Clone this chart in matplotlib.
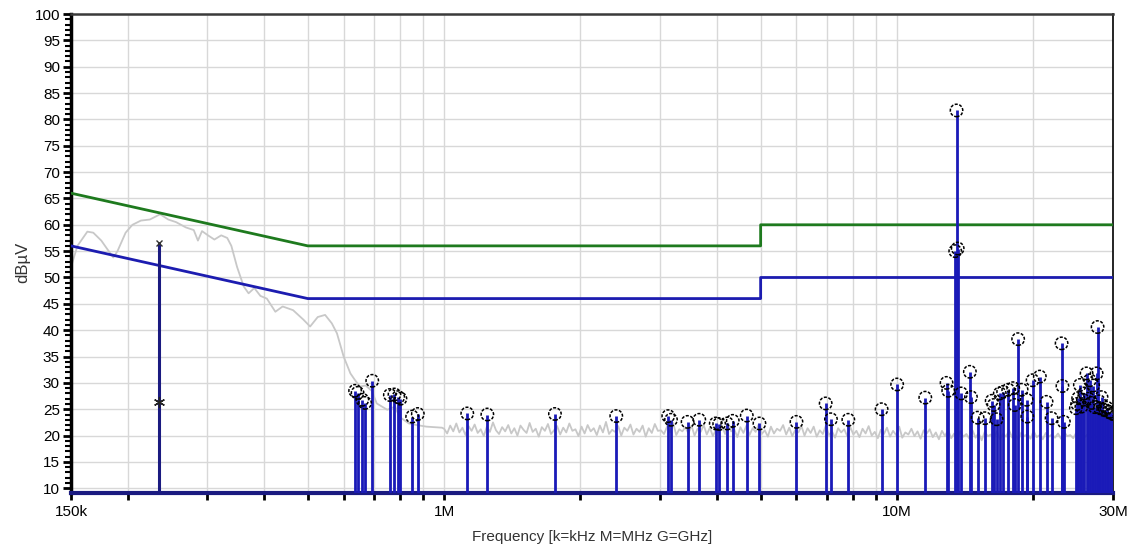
import numpy as np
import matplotlib.pyplot as plt

plt.rcParams['font.family'] = ['Liberation Sans', 'DejaVu Sans']

# limit lines, frequency in MHz, level in dBuV
qp_freq = [0.15, 0.5, 5.0, 5.0, 30.0]
qp_limit = [66, 56, 56, 60, 60]
av_freq = [0.15, 0.5, 5.0, 5.0, 30.0]
av_limit = [56, 46, 46, 50, 50]

# gray sweep trace: low band read point by point (kHz)
trace_khz = [150, 155, 163, 168, 175, 180, 186, 190, 198, 205, 214, 224, 236, 246, 256,
             269, 280, 286, 292, 301, 311, 322, 332, 339, 349, 361, 370, 381, 393, 406,
             424, 440, 464, 489, 506, 526, 546, 565, 580, 600, 621, 636, 652, 671, 692,
             710, 749, 780, 796, 836, 870, 914, 989]
trace_lvl = [52.0, 56.0, 58.7, 58.5, 57.0, 55.5, 53.8, 55.0, 58.5, 60.0, 60.8, 61.0, 62.0, 61.0, 60.5,
             59.5, 59.0, 57.0, 58.8, 58.0, 57.2, 58.0, 57.5, 56.0, 52.0, 48.3, 47.0, 48.0, 46.5, 46.0,
             43.5, 44.5, 43.8, 42.0, 40.7, 42.5, 42.9, 41.3, 39.4, 35.0, 31.8, 30.5, 29.3, 29.5, 28.5,
             26.1, 24.9, 25.5, 23.6, 22.3, 22.0, 21.7, 21.5]
# noise floor 1 MHz .. 30 MHz, read as a jagged band
noise_lvl = [21.3, 20.4, 21.9, 20.8, 22.3, 20.6, 21.5, 20.1, 21.8, 20.9, 22.1, 20.5, 21.2, 19.9, 21.7, 20.7, 22.5, 21.0, 20.3, 21.6,
             20.8, 22.0, 20.4, 21.4, 20.0, 21.9, 21.1, 20.5, 22.4, 20.7, 21.3, 19.8, 21.6, 20.9, 22.2, 20.3, 21.0, 21.8, 20.2, 21.5,
             20.6, 22.3, 20.9, 21.2, 19.9, 21.7, 20.4, 22.0, 20.8, 21.4, 20.1, 21.9, 20.6, 22.6, 20.3, 21.1, 20.7, 21.8, 20.0, 21.5,
             20.9, 22.1, 20.2, 21.3, 20.7, 21.9, 19.8, 21.4, 20.5, 22.2, 20.9, 21.0, 20.3, 21.7, 20.6, 22.4, 20.1, 21.2, 20.8, 21.6,
             20.4, 21.9, 20.0, 21.3, 20.7, 22.0, 20.2, 21.5, 19.9, 21.1, 20.6, 21.8, 20.3, 22.3, 20.8, 21.2, 19.7, 21.6, 20.5, 21.9,
             20.1, 21.4, 20.7, 22.1, 20.3, 21.0, 19.8, 21.7, 20.4, 21.3, 20.9, 22.0, 20.2, 21.5, 19.9, 21.1, 20.6, 21.8, 20.0, 21.4,
             20.5, 21.7, 19.8, 21.0, 20.3, 21.9, 20.1, 20.8, 19.6, 21.4, 20.6, 21.2, 19.9, 21.6, 20.2, 20.9, 19.7, 21.3, 20.4, 21.8,
             20.0, 20.7, 19.5, 21.1, 20.3, 21.5, 19.8, 20.9, 20.1, 21.7, 19.6, 20.6, 20.2, 21.3, 19.9, 20.8, 19.4, 21.0, 20.4, 21.2,
             19.7, 20.6, 19.3, 20.9, 19.9, 21.1, 19.5, 20.4, 19.2, 20.8, 19.8, 20.3, 19.4, 21.0, 19.6, 20.5, 19.1, 20.7, 19.9, 20.2,
             19.5, 20.8, 19.3, 20.4, 19.8, 21.0, 19.6, 20.2, 19.2, 20.6, 19.9, 20.3, 19.4, 20.9, 19.7, 20.1, 19.3, 20.5, 19.8, 20.2,
             19.6, 20.4, 19.4, 20.7, 19.9, 20.1, 19.5, 20.6, 19.3, 20.3, 19.8, 20.5, 19.6, 20.2, 19.4, 20.4, 19.7, 20.1, 19.5, 20.3]

# final measurement peaks (MHz, dBuV)
peak_freq = [0.636, 0.644, 0.660, 0.669, 0.694, 0.759, 0.777, 0.792, 0.801, 0.850, 0.875,
             1.125, 1.246, 1.757, 2.40, 3.126, 3.17, 3.449, 3.66, 3.98, 4.05, 4.22, 4.34, 4.66, 4.97,
             6.0, 6.96, 7.15, 7.81, 9.25, 10.01, 11.55, 12.87, 12.98, 13.45, 13.54, 13.62, 13.87,
             14.49, 14.57, 15.07, 15.65, 16.19, 16.35, 16.6, 16.87, 17.16, 17.61, 18.06, 18.2,
             18.52, 18.85, 19.34, 19.4, 19.93, 20.68, 21.40, 21.95, 23.10, 23.2, 23.37,
             24.84, 25.0, 25.13, 25.35, 25.55, 25.74, 25.95, 26.23, 26.45, 26.67, 26.9, 27.12,
             27.35, 27.6, 27.74, 27.95, 28.07, 28.3, 28.55, 28.79, 29.05, 29.3, 29.54, 29.8, 29.97]
peak_lvl = [28.5, 28.1, 26.8, 26.2, 30.4, 27.7, 27.8, 27.3, 27.0, 23.6, 24.1,
            24.2, 24.0, 24.1, 23.7, 23.7, 23.0, 22.6, 23.0, 22.3, 22.2, 22.3, 22.8, 23.8, 22.3,
            22.6, 26.1, 23.1, 23.0, 25.0, 29.7, 27.2, 30.0, 28.5, 55.0, 81.7, 55.5, 28.0,
            32.1, 27.3, 23.4, 23.3, 26.6, 25.8, 23.1, 28.0, 28.3, 28.7, 29.0, 25.8,
            38.3, 28.7, 26.8, 23.6, 30.5, 31.2, 26.4, 23.3, 37.5, 29.4, 22.6,
            25.2, 26.0, 27.1, 29.6, 25.5, 26.8, 28.0, 31.8, 27.0, 30.5, 26.2, 29.5,
            25.4, 31.8, 40.6, 26.5, 25.2, 27.3, 24.9, 24.9, 25.3, 24.5, 24.5, 24.2, 24.1]

# single preview marker at 235 kHz
pk_freq = 0.235
pk_max = 56.5
pk_avg = 26.3

y_bottom = 9.2

grid_ticks = [0.15, 0.2, 0.3, 0.4, 0.5, 0.6, 0.7, 0.8, 0.9,
              1, 2, 3, 4, 5, 6, 7, 8, 9, 10, 20, 30]
tick_names = {0.15: '150k', 1: '1M', 10: '10M', 30: '30M'}

fig = plt.figure(figsize=(11.31, 5.5), dpi=100)
ax = fig.add_axes([71 / 1131, 1 - 492.5 / 550, (1113 - 71) / 1131, (492.5 - 14) / 550])

trace_f = np.concatenate([np.array(trace_khz) / 1000.0, np.geomspace(1.0, 30.0, len(noise_lvl))])
trace_v = np.concatenate([trace_lvl, noise_lvl])
ax.plot(trace_f, trace_v, color='#c8c8c8', lw=1.3, zorder=2)

ax.plot(qp_freq, qp_limit, color='#1e7a1e', lw=2.0, zorder=3)
ax.plot(av_freq, av_limit, color='#1c1cb0', lw=2.0, zorder=3)

ax.vlines(peak_freq, y_bottom, peak_lvl, color='#1a1ab8', lw=2.0, zorder=4)
ax.scatter(peak_freq, peak_lvl, s=80, facecolors='none', edgecolors='black',
           linewidths=1.1, linestyle=(0, (2, 1)), zorder=6)

ax.vlines([pk_freq], y_bottom, [pk_max], color='#1a1a80', lw=2.2, zorder=5)
ax.plot([pk_freq], [pk_max], marker='x', color='#333333', ms=5, mew=1, zorder=6)
ax.plot([pk_freq], [pk_avg], marker=(6, 2, 0), color='#222222', ms=8, mew=1, zorder=6)

ax.set_xscale('log')
ax.set_xlim(0.15, 30)
ax.set_ylim(y_bottom, 100)

ax.set_xticks(grid_ticks)
ax.set_xticklabels([tick_names.get(t, '') for t in grid_ticks])
ax.xaxis.set_minor_locator(plt.NullLocator())
ax.set_yticks(np.arange(10, 101, 5))
ax.set_yticks(np.arange(10, 101, 1), minor=True)

ax.grid(True, which='major', color='#d8d8d8', lw=1.0, zorder=0)
ax.set_axisbelow(True)

ax.tick_params(axis='x', length=5, width=2, colors='black', labelsize=11, pad=4)
ax.tick_params(axis='y', which='major', length=6, width=2, labelsize=11, pad=2)
ax.tick_params(axis='y', which='minor', length=4, width=1.5)

ax.spines['left'].set_linewidth(2.5)
ax.spines['left'].set_color('black')
ax.spines['bottom'].set_linewidth(3)
ax.spines['bottom'].set_color('#1a1a80')
ax.spines['top'].set_linewidth(1.8)
ax.spines['top'].set_color('#3a3a3a')
ax.spines['right'].set_linewidth(1.2)
ax.spines['right'].set_color('black')

ax.set_xlabel('Frequency [k=kHz M=MHz G=GHz]', fontsize=11, color='#333333', labelpad=8)
ax.set_ylabel('dBµV', fontsize=12, color='#333333')
ax.yaxis.set_label_coords(-0.039, 0.48)

fig.savefig('out.png', dpi=100)
